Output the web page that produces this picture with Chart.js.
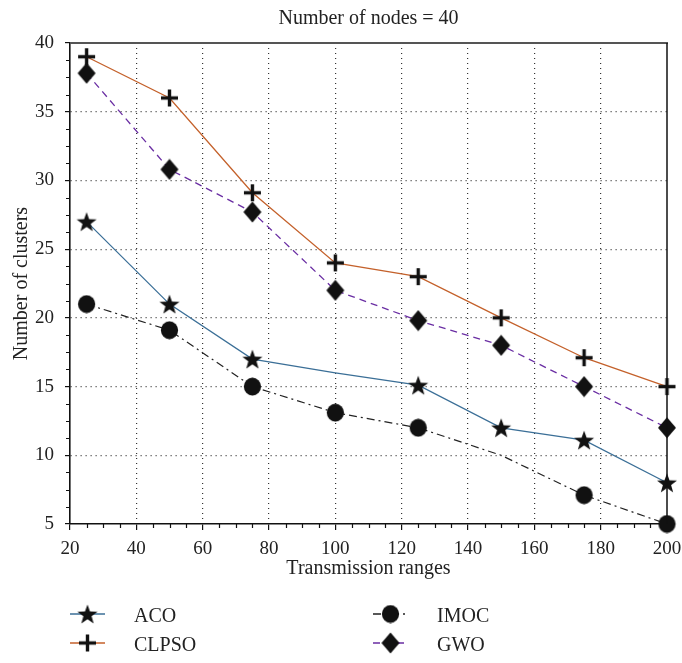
<!DOCTYPE html>
<html><head><meta charset="utf-8">
<script src="https://cdn.jsdelivr.net/npm/chart.js@4"></script>
<style>html,body{margin:0;padding:0;background:#fff}</style>
</head><body>
<canvas id="c" width="682" height="663" style="display:block;width:682px;height:663px"></canvas>
<script>
// ---- data ----
const ranges = [25, 50, 75, 100, 125, 150, 175, 200];
const aco    = [27, 21, 17, 16, 15.1, 12, 11.1, 8];
const clpso  = [39, 36, 29.1, 24, 23, 20, 17.1, 15];
const imoc   = [21, 19.1, 15, 13.1, 12, 10, 7.1, 5];
const gwo    = [37.8, 30.8, 27.7, 22, 19.8, 18, 15, 12];
const acoMarked   = [1, 1, 1, 0, 1, 1, 1, 1];
const clpsoMarked = [1, 1, 1, 1, 1, 1, 1, 1];
const imocMarked  = [1, 1, 1, 1, 1, 0, 1, 1];
const gwoMarked   = [1, 1, 1, 1, 1, 1, 1, 1];
const seriesNames = ['ACO', 'CLPSO', 'IMOC', 'GWO'];
const xMin = 20, xMax = 200, xStep = 20, xMinorStep = 5;
const yMin = 5, yMax = 40, yStep = 5, yMinorStep = 1.25;
const titleText = 'Number of nodes = 40';
const xTitle = 'Transmission ranges';
const yTitle = 'Number of clusters';

const FONT = '"Liberation Serif", "Times New Roman", serif';
const INK = '#111';

// ---- marker images ----
function mk(w, h, draw) {
  const c = document.createElement('canvas');
  c.width = w; c.height = h;
  const g = c.getContext('2d');
  g.fillStyle = INK; g.strokeStyle = INK;
  draw(g, w, h);
  return c;
}
const starImg = mk(22, 22, (g, w, h) => {
  const cx = w / 2, cy = h / 2 + 1, R = 10.5, r = 4.3;
  g.beginPath();
  for (let i = 0; i < 10; i++) {
    const a = -Math.PI / 2 + i * Math.PI / 5;
    const rr = i % 2 ? r : R;
    const px = cx + rr * Math.cos(a), py = cy + rr * Math.sin(a);
    i ? g.lineTo(px, py) : g.moveTo(px, py);
  }
  g.closePath(); g.fill();
});
const plusImg = mk(19, 19, (g, w, h) => {
  const t = 3.4;
  g.fillRect(1, (h - t) / 2, w - 2, t);
  g.fillRect((w - t) / 2, 1, t, h - 2);
});
const circleImg = mk(19, 19, (g, w, h) => {
  g.beginPath(); g.ellipse(w / 2, h / 2, 8.6, 8.9, 0, 0, Math.PI * 2); g.fill();
});
const diamondImg = mk(20, 22, (g, w, h) => {
  g.beginPath();
  g.moveTo(w / 2, 0.5); g.lineTo(w - 1, h / 2); g.lineTo(w / 2, h - 0.5); g.lineTo(1, h / 2);
  g.closePath(); g.fill();
});

const pts = arr => arr.map((v, i) => ({ x: ranges[i], y: v }));
const radii = m => m.map(v => v ? 9 : 0);

const datasets = [
  { label: seriesNames[0], data: pts(aco), borderColor: '#3b6f97', borderWidth: 1.3, borderDash: [],
    pointStyle: starImg, pointRadius: radii(acoMarked) },
  { label: seriesNames[1], data: pts(clpso), borderColor: '#c4612b', borderWidth: 1.3, borderDash: [],
    pointStyle: plusImg, pointRadius: radii(clpsoMarked) },
  { label: seriesNames[2], data: pts(imoc), borderColor: '#222222', borderWidth: 1.2, borderDash: [8, 4, 2, 4],
    pointStyle: circleImg, pointRadius: radii(imocMarked) },
  { label: seriesNames[3], data: pts(gwo), borderColor: '#6a2ea3', borderWidth: 1.3, borderDash: [7, 5],
    pointStyle: diamondImg, pointRadius: radii(gwoMarked) }
].map(d => Object.assign(d, { fill: false, tension: 0, clip: false, pointHoverRadius: 0, showLine: true }));

// ---- plugins ----
const framePlugin = {
  id: 'frame',
  afterDraw(chart) {
    const { ctx, chartArea: a, scales: { x, y } } = chart;
    ctx.save();
    // minor ticks
    ctx.strokeStyle = INK; ctx.lineWidth = 1.2; ctx.setLineDash([]);
    ctx.beginPath();
    for (let v = xMin; v <= xMax + 1e-9; v += xMinorStep) {
      if (Math.abs(v % xStep) < 1e-9) continue;
      const px = Math.round(x.getPixelForValue(v)) + 0.5;
      ctx.moveTo(px, a.bottom); ctx.lineTo(px, a.bottom + 4);
    }
    for (let v = yMin; v <= yMax + 1e-9; v += yMinorStep) {
      if (Math.abs(v % yStep) < 1e-9) continue;
      const py = Math.round(y.getPixelForValue(v)) + 0.5;
      ctx.moveTo(a.left - 4, py); ctx.lineTo(a.left, py);
    }
    ctx.stroke();
    // top and right frame
    ctx.strokeStyle = '#555'; ctx.lineWidth = 2;
    ctx.beginPath(); ctx.moveTo(a.left, a.top); ctx.lineTo(a.right + 1, a.top); ctx.stroke();
    ctx.strokeStyle = INK; ctx.lineWidth = 1.5;
    ctx.beginPath(); ctx.moveTo(a.right, a.top); ctx.lineTo(a.right, a.bottom); ctx.stroke();
    // title
    ctx.fillStyle = '#222'; ctx.font = '20px ' + FONT;
    ctx.textAlign = 'center'; ctx.textBaseline = 'middle';
    ctx.fillText(titleText, (a.left + a.right) / 2, 19);
    ctx.restore();
  }
};

const legendSlots = [ // [datasetIndex, left, centreY]
  [0, 70, 614], [2, 373, 614], [1, 70, 643], [3, 373, 643]
];
const legendPlugin = {
  id: 'twoColLegend',
  afterDraw(chart) {
    const ctx = chart.ctx;
    ctx.save();
    legendSlots.forEach(([i, lx, ly]) => {
      const ds = chart.data.datasets[i];
      ctx.strokeStyle = ds.borderColor; ctx.lineWidth = 1.6;
      ctx.setLineDash(ds.borderDash || []);
      ctx.beginPath(); ctx.moveTo(lx, ly); ctx.lineTo(lx + 35, ly); ctx.stroke();
      ctx.setLineDash([]);
      const img = ds.pointStyle;
      ctx.drawImage(img, lx + 17.5 - img.width / 2, ly - img.height / 2);
      ctx.fillStyle = '#222'; ctx.font = '20px ' + FONT;
      ctx.textAlign = 'left'; ctx.textBaseline = 'middle';
      ctx.fillText(ds.label, lx + 64, ly + 3);
    });
    ctx.restore();
  }
};

const edgeGrid = (min, max) => c => (c.tick && (c.tick.value === min || c.tick.value === max)) ? 'rgba(0,0,0,0)' : '#333';

new Chart(document.getElementById('c'), {
  type: 'line',
  data: { datasets },
  options: {
    responsive: false, animation: false, devicePixelRatio: 1,
    layout: { padding: { top: 43, left: 0, right: 15, bottom: 79 } },
    plugins: { legend: { display: false }, tooltip: { enabled: false }, title: { display: false } },
    events: [],
    scales: {
      x: {
        type: 'linear', min: xMin, max: xMax,
        afterFit: s => { s.height = 60; s.paddingLeft = 0; s.paddingRight = 0; },
        ticks: { stepSize: xStep, color: '#222', font: { family: FONT, size: 19 }, padding: 8, maxRotation: 0 },
        grid: { color: edgeGrid(xMin, xMax), lineWidth: 1.2, tickColor: INK, tickLength: 6, tickWidth: 1.2 },
        border: { display: true, color: INK, width: 1.6, dash: [1, 4] },
        title: { display: true, text: xTitle, color: '#222', font: { family: FONT, size: 20 }, padding: { top: 0, bottom: 3 } }
      },
      y: {
        type: 'linear', min: yMin, max: yMax,
        afterFit: s => { s.width = 70; s.paddingTop = 0; s.paddingBottom = 0; },
        ticks: { stepSize: yStep, color: '#222', font: { family: FONT, size: 19 }, padding: 11 },
        grid: { color: edgeGrid(yMin, yMax), lineWidth: 1.2, tickColor: INK, tickLength: 5, tickWidth: 1.2 },
        border: { display: true, color: INK, width: 1.6, dash: [1, 4] },
        title: { display: true, text: yTitle, color: '#222', font: { family: FONT, size: 20 }, padding: { top: 10, bottom: 0 } }
      }
    }
  },
  plugins: [framePlugin, legendPlugin]
});
</script>
</body></html>
